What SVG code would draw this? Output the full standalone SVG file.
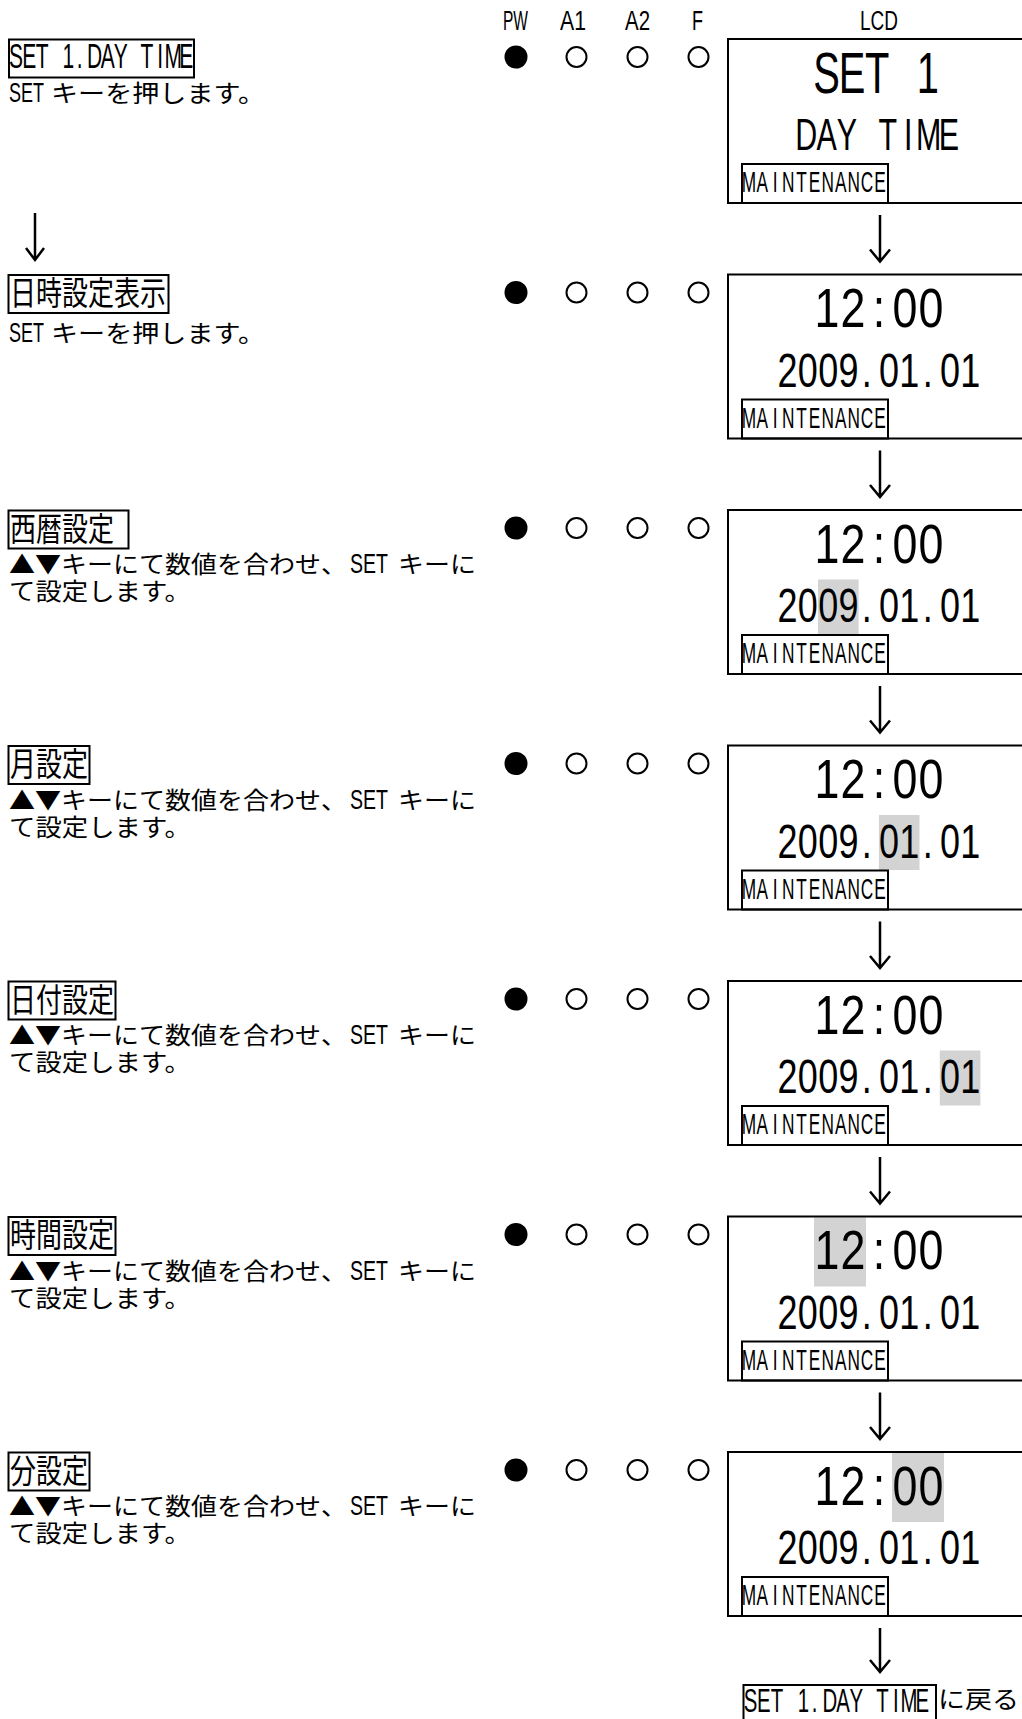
<svg xmlns="http://www.w3.org/2000/svg" width="1022" height="1719" viewBox="0 0 1022 1719">
<style>
text{fill:#000}
.lat{font-family:"Liberation Sans",Arial,sans-serif}
.jp{font-family:"Noto Sans CJK JP","Noto Sans CJK SC",sans-serif;font-size:24px}
.lbl{font-family:"Noto Sans CJK JP","Noto Sans CJK SC",sans-serif;font-size:33px}
.box{fill:none;stroke:#000;stroke-width:2}
.hl{fill:#d3d3d3}
.on{fill:#000}
.off{fill:none;stroke:#000;stroke-width:2}
.mid{text-anchor:middle}
.t{font-size:56px}
.d{font-size:48px}
.m{font-size:28.8px}
.arr{fill:none;stroke:#000;stroke-width:2.5}
</style>

<g id="header">
<text class="lat" x="503" y="29.5" font-size="27" textLength="25" lengthAdjust="spacingAndGlyphs">PW</text>
<text class="lat" x="560" y="29.5" font-size="27" textLength="26" lengthAdjust="spacingAndGlyphs">A1</text>
<text class="lat" x="625" y="29.5" font-size="27" textLength="25" lengthAdjust="spacingAndGlyphs">A2</text>
<text class="lat" x="692" y="29.5" font-size="27" textLength="11" lengthAdjust="spacingAndGlyphs">F</text>
<text class="lat" x="860" y="29.5" font-size="27" textLength="38" lengthAdjust="spacingAndGlyphs">LCD</text>
</g>

<!-- Row 1 -->
<g id="row1" transform="translate(0,39)">
<rect class="box" x="9" y="0.5" width="185" height="38"/>
<text class="lat mid" font-size="35" transform="scale(0.6 1)" x="26.75 48.58 70.42 92.25 114.08 132.58 157.75 179.58 201.42 223.25 245.08 266.92 288.75 310.58" y="29">SET 1.DAY TIME</text>
<text class="lat" font-size="28" x="9" y="63" textLength="35" lengthAdjust="spacingAndGlyphs">SET</text>
<text class="jp" x="51" y="63" textLength="214" lengthAdjust="spacingAndGlyphs">キーを押します。</text>
<circle class="on" cx="516" cy="18" r="11.5"/>
<circle class="off" cx="576.5" cy="18" r="10"/>
<circle class="off" cx="637.5" cy="18" r="10"/>
<circle class="off" cx="698.5" cy="18" r="10"/>
<path class="box" d="M1024,0 H728 V164 H1024"/>
<text class="lat mid" font-size="57" transform="scale(0.7 1)" x="1180.93 1217.07 1253.21 1289.36 1325.5" y="54">SET 1</text>
<text class="lat mid" font-size="43.5" transform="scale(0.7 1)" x="1151.71 1180.86 1210 1239.14 1268.29 1297.43 1326.57 1355.71" y="111">DAY TIME</text>
<rect class="box" x="742" y="125" width="146" height="39"/>
<text class="lat m mid" transform="scale(0.6 1)" x="1248.42 1270.25 1292.08 1313.92 1335.75 1357.58 1379.42 1401.25 1423.08 1444.92 1466.75" y="153.3">MAINTENANCE</text>
</g>

<!-- Row 2 -->
<g id="row2" transform="translate(0,274.5)">
<rect class="box" x="8.5" y="0.5" width="160" height="38"/>
<text class="lbl" x="10" y="30.7" textLength="156" lengthAdjust="spacingAndGlyphs">日時設定表示</text>
<text class="lat" font-size="28" x="9" y="67" textLength="35" lengthAdjust="spacingAndGlyphs">SET</text>
<text class="jp" x="51" y="67" textLength="214" lengthAdjust="spacingAndGlyphs">キーを押します。</text>
<circle class="on" cx="516" cy="18" r="11.5"/>
<circle class="off" cx="576.5" cy="18" r="10"/>
<circle class="off" cx="637.5" cy="18" r="10"/>
<circle class="off" cx="698.5" cy="18" r="10"/>
<path class="box" d="M1024,0 H728 V164 H1024"/>
<text class="lat t mid" transform="scale(0.8 1)" x="1033.75 1066.25 1098.75 1131.25 1163.75" y="53">12:00</text>
<text class="lat d mid" transform="scale(0.75 1)" x="1050.07 1077.13 1104.2 1131.27 1155.67 1185.4 1212.47 1236.87 1266.6 1293.67" y="112.5">2009.01.01</text>
<rect class="box" x="742" y="125" width="146" height="39"/>
<text class="lat m mid" transform="scale(0.6 1)" x="1248.42 1270.25 1292.08 1313.92 1335.75 1357.58 1379.42 1401.25 1423.08 1444.92 1466.75" y="153.3">MAINTENANCE</text>
</g>

<!-- Row 3 -->
<g id="row3" transform="translate(0,510)">
<rect class="box" x="8.5" y="0.5" width="120" height="38"/>
<text class="lbl" x="10" y="30.7" textLength="104" lengthAdjust="spacingAndGlyphs">西暦設定</text>
<text class="jp" x="9" y="63" textLength="338" lengthAdjust="spacingAndGlyphs">▲▼キーにて数値を合わせ、</text>
<text class="lat" font-size="28" x="350" y="63" textLength="38" lengthAdjust="spacingAndGlyphs">SET</text>
<text class="jp" x="398" y="63" textLength="78" lengthAdjust="spacingAndGlyphs">キーに</text>
<text class="jp" x="9" y="90" textLength="182" lengthAdjust="spacingAndGlyphs">て設定します。</text>
<circle class="on" cx="516" cy="18" r="11.5"/>
<circle class="off" cx="576.5" cy="18" r="10"/>
<circle class="off" cx="637.5" cy="18" r="10"/>
<circle class="off" cx="698.5" cy="18" r="10"/>
<rect class="hl" x="818" y="69.5" width="40.6" height="55"/>
<path class="box" d="M1024,0 H728 V164 H1024"/>
<text class="lat t mid" transform="scale(0.8 1)" x="1033.75 1066.25 1098.75 1131.25 1163.75" y="53">12:00</text>
<text class="lat d mid" transform="scale(0.75 1)" x="1050.07 1077.13 1104.2 1131.27 1155.67 1185.4 1212.47 1236.87 1266.6 1293.67" y="112.5">2009.01.01</text>
<rect class="box" x="742" y="125" width="146" height="39"/>
<text class="lat m mid" transform="scale(0.6 1)" x="1248.42 1270.25 1292.08 1313.92 1335.75 1357.58 1379.42 1401.25 1423.08 1444.92 1466.75" y="153.3">MAINTENANCE</text>
</g>

<!-- Row 4 -->
<g id="row4" transform="translate(0,745.5)">
<rect class="box" x="8.5" y="0.5" width="81" height="38"/>
<text class="lbl" x="10" y="30.7" textLength="78" lengthAdjust="spacingAndGlyphs">月設定</text>
<text class="jp" x="9" y="63" textLength="338" lengthAdjust="spacingAndGlyphs">▲▼キーにて数値を合わせ、</text>
<text class="lat" font-size="28" x="350" y="63" textLength="38" lengthAdjust="spacingAndGlyphs">SET</text>
<text class="jp" x="398" y="63" textLength="78" lengthAdjust="spacingAndGlyphs">キーに</text>
<text class="jp" x="9" y="90" textLength="182" lengthAdjust="spacingAndGlyphs">て設定します。</text>
<circle class="on" cx="516" cy="18" r="11.5"/>
<circle class="off" cx="576.5" cy="18" r="10"/>
<circle class="off" cx="637.5" cy="18" r="10"/>
<circle class="off" cx="698.5" cy="18" r="10"/>
<rect class="hl" x="878.9" y="69.5" width="40.6" height="55"/>
<path class="box" d="M1024,0 H728 V164 H1024"/>
<text class="lat t mid" transform="scale(0.8 1)" x="1033.75 1066.25 1098.75 1131.25 1163.75" y="53">12:00</text>
<text class="lat d mid" transform="scale(0.75 1)" x="1050.07 1077.13 1104.2 1131.27 1155.67 1185.4 1212.47 1236.87 1266.6 1293.67" y="112.5">2009.01.01</text>
<rect class="box" x="742" y="125" width="146" height="39"/>
<text class="lat m mid" transform="scale(0.6 1)" x="1248.42 1270.25 1292.08 1313.92 1335.75 1357.58 1379.42 1401.25 1423.08 1444.92 1466.75" y="153.3">MAINTENANCE</text>
</g>

<!-- Row 5 -->
<g id="row5" transform="translate(0,981)">
<rect class="box" x="8.5" y="0.5" width="107" height="38"/>
<text class="lbl" x="10" y="30.7" textLength="104" lengthAdjust="spacingAndGlyphs">日付設定</text>
<text class="jp" x="9" y="63" textLength="338" lengthAdjust="spacingAndGlyphs">▲▼キーにて数値を合わせ、</text>
<text class="lat" font-size="28" x="350" y="63" textLength="38" lengthAdjust="spacingAndGlyphs">SET</text>
<text class="jp" x="398" y="63" textLength="78" lengthAdjust="spacingAndGlyphs">キーに</text>
<text class="jp" x="9" y="90" textLength="182" lengthAdjust="spacingAndGlyphs">て設定します。</text>
<circle class="on" cx="516" cy="18" r="11.5"/>
<circle class="off" cx="576.5" cy="18" r="10"/>
<circle class="off" cx="637.5" cy="18" r="10"/>
<circle class="off" cx="698.5" cy="18" r="10"/>
<rect class="hl" x="939.8" y="69.5" width="40.6" height="55"/>
<path class="box" d="M1024,0 H728 V164 H1024"/>
<text class="lat t mid" transform="scale(0.8 1)" x="1033.75 1066.25 1098.75 1131.25 1163.75" y="53">12:00</text>
<text class="lat d mid" transform="scale(0.75 1)" x="1050.07 1077.13 1104.2 1131.27 1155.67 1185.4 1212.47 1236.87 1266.6 1293.67" y="112.5">2009.01.01</text>
<rect class="box" x="742" y="125" width="146" height="39"/>
<text class="lat m mid" transform="scale(0.6 1)" x="1248.42 1270.25 1292.08 1313.92 1335.75 1357.58 1379.42 1401.25 1423.08 1444.92 1466.75" y="153.3">MAINTENANCE</text>
</g>

<!-- Row 6 -->
<g id="row6" transform="translate(0,1216.5)">
<rect class="box" x="8.5" y="0.5" width="107" height="38"/>
<text class="lbl" x="10" y="30.7" textLength="104" lengthAdjust="spacingAndGlyphs">時間設定</text>
<text class="jp" x="9" y="63" textLength="338" lengthAdjust="spacingAndGlyphs">▲▼キーにて数値を合わせ、</text>
<text class="lat" font-size="28" x="350" y="63" textLength="38" lengthAdjust="spacingAndGlyphs">SET</text>
<text class="jp" x="398" y="63" textLength="78" lengthAdjust="spacingAndGlyphs">キーに</text>
<text class="jp" x="9" y="90" textLength="182" lengthAdjust="spacingAndGlyphs">て設定します。</text>
<circle class="on" cx="516" cy="18" r="11.5"/>
<circle class="off" cx="576.5" cy="18" r="10"/>
<circle class="off" cx="637.5" cy="18" r="10"/>
<circle class="off" cx="698.5" cy="18" r="10"/>
<rect class="hl" x="814" y="1" width="52" height="69"/>
<path class="box" d="M1024,0 H728 V164 H1024"/>
<text class="lat t mid" transform="scale(0.8 1)" x="1033.75 1066.25 1098.75 1131.25 1163.75" y="53">12:00</text>
<text class="lat d mid" transform="scale(0.75 1)" x="1050.07 1077.13 1104.2 1131.27 1155.67 1185.4 1212.47 1236.87 1266.6 1293.67" y="112.5">2009.01.01</text>
<rect class="box" x="742" y="125" width="146" height="39"/>
<text class="lat m mid" transform="scale(0.6 1)" x="1248.42 1270.25 1292.08 1313.92 1335.75 1357.58 1379.42 1401.25 1423.08 1444.92 1466.75" y="153.3">MAINTENANCE</text>
</g>

<!-- Row 7 -->
<g id="row7" transform="translate(0,1452)">
<rect class="box" x="8.5" y="0.5" width="81" height="38"/>
<text class="lbl" x="10" y="30.7" textLength="78" lengthAdjust="spacingAndGlyphs">分設定</text>
<text class="jp" x="9" y="63" textLength="338" lengthAdjust="spacingAndGlyphs">▲▼キーにて数値を合わせ、</text>
<text class="lat" font-size="28" x="350" y="63" textLength="38" lengthAdjust="spacingAndGlyphs">SET</text>
<text class="jp" x="398" y="63" textLength="78" lengthAdjust="spacingAndGlyphs">キーに</text>
<text class="jp" x="9" y="90" textLength="182" lengthAdjust="spacingAndGlyphs">て設定します。</text>
<circle class="on" cx="516" cy="18" r="11.5"/>
<circle class="off" cx="576.5" cy="18" r="10"/>
<circle class="off" cx="637.5" cy="18" r="10"/>
<circle class="off" cx="698.5" cy="18" r="10"/>
<rect class="hl" x="892" y="1" width="52" height="69"/>
<path class="box" d="M1024,0 H728 V164 H1024"/>
<text class="lat t mid" transform="scale(0.8 1)" x="1033.75 1066.25 1098.75 1131.25 1163.75" y="53">12:00</text>
<text class="lat d mid" transform="scale(0.75 1)" x="1050.07 1077.13 1104.2 1131.27 1155.67 1185.4 1212.47 1236.87 1266.6 1293.67" y="112.5">2009.01.01</text>
<rect class="box" x="742" y="125" width="146" height="39"/>
<text class="lat m mid" transform="scale(0.6 1)" x="1248.42 1270.25 1292.08 1313.92 1335.75 1357.58 1379.42 1401.25 1423.08 1444.92 1466.75" y="153.3">MAINTENANCE</text>
</g>

<!-- Return node -->
<g id="return">
<rect class="box" x="743.5" y="1685" width="192.5" height="42"/>
<text class="lat mid" font-size="34" transform="scale(0.6 1)" x="1251 1273 1295 1317 1339 1357.67 1383 1405 1427 1449 1471 1493 1515 1537" y="1712">SET 1.DAY TIME</text>
<text class="jp" x="938" y="1708" textLength="81" lengthAdjust="spacingAndGlyphs">に戻る</text>
</g>

<g id="connectors">
<path class="arr" d="M35,213 V260 M26,248 L35,260 L44,248"/>
<path class="arr" d="M880,215 V261.5 M870,249.5 L880,261.5 L890,249.5"/>
<path class="arr" d="M880,450.5 V497 M870,485 L880,497 L890,485"/>
<path class="arr" d="M880,686 V732.5 M870,720.5 L880,732.5 L890,720.5"/>
<path class="arr" d="M880,921.5 V968 M870,956 L880,968 L890,956"/>
<path class="arr" d="M880,1157 V1203.5 M870,1191.5 L880,1203.5 L890,1191.5"/>
<path class="arr" d="M880,1392.5 V1439 M870,1427 L880,1439 L890,1427"/>
<path class="arr" d="M880,1628 V1672 M870,1660 L880,1672 L890,1660"/>
</g>
</svg>
